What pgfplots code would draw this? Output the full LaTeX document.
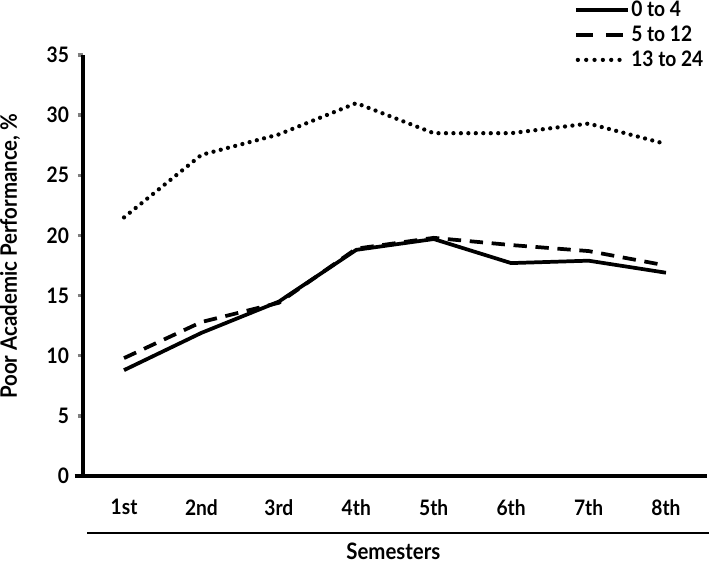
\documentclass[border=0pt]{standalone}
\usepackage{fontspec}
\setmainfont{Lato}[FakeStretch=0.9]
\usepackage{pgfplots}
\pgfplotsset{compat=1.18}
\begin{document}
\begin{tikzpicture}[font=\fontsize{16}{19}\selectfont\bfseries]
\useasboundingbox (0,0) rectangle (531.75pt,422.25pt);
\begin{axis}[
  at={(62.25pt,65.25pt)}, anchor=south west,
  scale only axis, width=468pt, height=315.75pt,
  xmin=0.47, xmax=8.53, ymin=0, ymax=35,
  axis x line=bottom, axis y line=left,
  axis line style={line width=3pt,-},
  xtick={1,...,8},
  xticklabels={1st,2nd,3rd,4th,5th,6th,7th,8th},
  ytick={0,5,...,35},
  xtick style={draw=none},
  ytick style={line width=2.5pt},
  tick align=outside, major tick length=4pt,
  /pgf/number format/assume math mode=true,
  tick label style={font=\fontsize{16}{19}\selectfont\bfseries},
  xticklabel style={yshift=-10pt},
  yticklabel style={xshift=-3pt},
  legend style={at={(axis description cs:0.786,1.1315)}, anchor=north west,
    draw=none, fill=none, inner sep=0pt, row sep=3.5pt,
    font=\fontsize{16}{19}\selectfont\bfseries,
    nodes={inner sep=1pt}},
  legend cell align=left,
  legend image code/.code={\draw[#1] (0pt,0pt) -- (39pt,0pt);},
  clip=false,
]
\addplot[black, line width=2.8pt, line join=round,
  legend image code/.code={\draw[black, line width=3.2pt] (0pt,0pt) -- (39pt,0pt);}] coordinates {
 (1,8.8) (2,11.9) (3,14.5) (4,18.8) (5,19.7) (6,17.7) (7,17.9) (8,16.9)};
\addlegendentry{0 to 4}
\addplot[black, line width=2.8pt, dash pattern=on 10pt off 6.5pt,
  legend image code/.code={\draw[black, line width=3.2pt, dash pattern=on 12.75pt off 9.75pt] (0pt,0pt) -- (39pt,0pt);}] coordinates {
 (1,9.8) (2,12.8) (3,14.4) (4,18.9) (5,19.8) (6,19.2) (7,18.7) (8,17.5)};
\addlegendentry{5 to 12}
\addplot[black, line width=3.2pt, line cap=round, dash pattern=on 0pt off 5.6pt,
  legend image code/.code={\draw[black, line width=3.2pt, line cap=round, dash pattern=on 0pt off 6.25pt] (1.5pt,0pt) -- (39pt,0pt);}] coordinates {
 (1,21.5) (2,26.7) (3,28.4) (4,31.0) (5,28.5) (6,28.5) (7,29.3) (8,27.6)};
\addlegendentry{13 to 24}
\end{axis}
\draw[line width=3pt] (56pt,65.25pt) -- (63pt,65.25pt);
\draw[line width=1pt] (65.25pt,22.5pt) -- (531.75pt,22.5pt);
\node[anchor=base, font=\fontsize{17}{20}\selectfont\bfseries] at (295pt,2.5pt) {Semesters};
\node[rotate=90, anchor=center, font=\fontsize{17}{20}\selectfont\bfseries] at (7.5pt,230pt) {Poor Academic Performance, \%};
\end{tikzpicture}
\end{document}
